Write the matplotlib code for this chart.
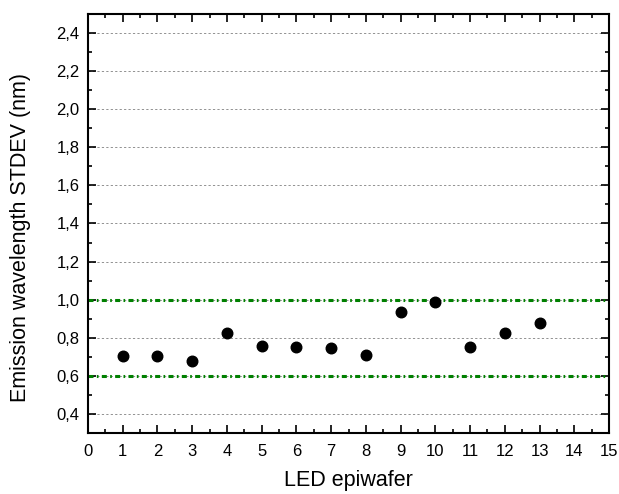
import numpy as np
import matplotlib.pyplot as plt
from matplotlib.ticker import MultipleLocator, FuncFormatter

# LED epiwafer number vs emission wavelength STDEV (nm)
wafers = [1, 2, 3, 4, 5, 6, 7, 8, 9, 10, 11, 12, 13]
stdev = [0.705, 0.705, 0.679, 0.825, 0.758, 0.754, 0.746,
         0.707, 0.933, 0.988, 0.753, 0.825, 0.877]
limits = [0.6, 1.0]

plt.rcParams['font.family'] = ['Liberation Sans', 'DejaVu Sans']
plt.rcParams['lines.scale_dashes'] = False

fig = plt.figure(figsize=(6.19, 4.94), dpi=100)
ax = fig.add_axes([0.1422, 0.1235, 0.8417, 0.8482])

ax.set_xlim(0, 15)
ax.set_ylim(0.3, 2.5)

# grey dashed grid at major y ticks
for yv in np.arange(0.4, 2.41, 0.2):
    ax.axhline(yv, color="grey", linewidth=0.6, linestyle=(0, (1.6, 1.6)), zorder=1)

for lim in limits:
    ax.axhline(lim, color="#008000", linewidth=2.2,
               linestyle=(0, (3.6, 2.4, 1.2, 2.4)), zorder=2)

ax.plot(wafers, stdev, "o", color="black", markersize=7.6, zorder=3)

ax.xaxis.set_major_locator(MultipleLocator(1))
ax.xaxis.set_minor_locator(MultipleLocator(0.5))
ax.yaxis.set_major_locator(MultipleLocator(0.2))
ax.yaxis.set_minor_locator(MultipleLocator(0.1))
ax.yaxis.set_major_formatter(FuncFormatter(lambda v, p: f"{v:.1f}".replace(".", ",")))

ax.tick_params(which="both", direction="in", top=True, right=True, width=1.2)
ax.tick_params(which="major", length=6, labelsize=12)
ax.tick_params(axis="x", which="major", pad=8)
ax.tick_params(axis="y", which="major", pad=6)
ax.tick_params(which="minor", length=3)
for s in ax.spines.values():
    s.set_linewidth(1.5)

ax.set_xlabel("LED epiwafer", fontsize=15.5, labelpad=8)
ax.set_ylabel("Emission wavelength STDEV (nm)", fontsize=15.5)
ax.yaxis.set_label_coords(-0.11, 0.467)

plt.savefig("out.png", dpi=100)
